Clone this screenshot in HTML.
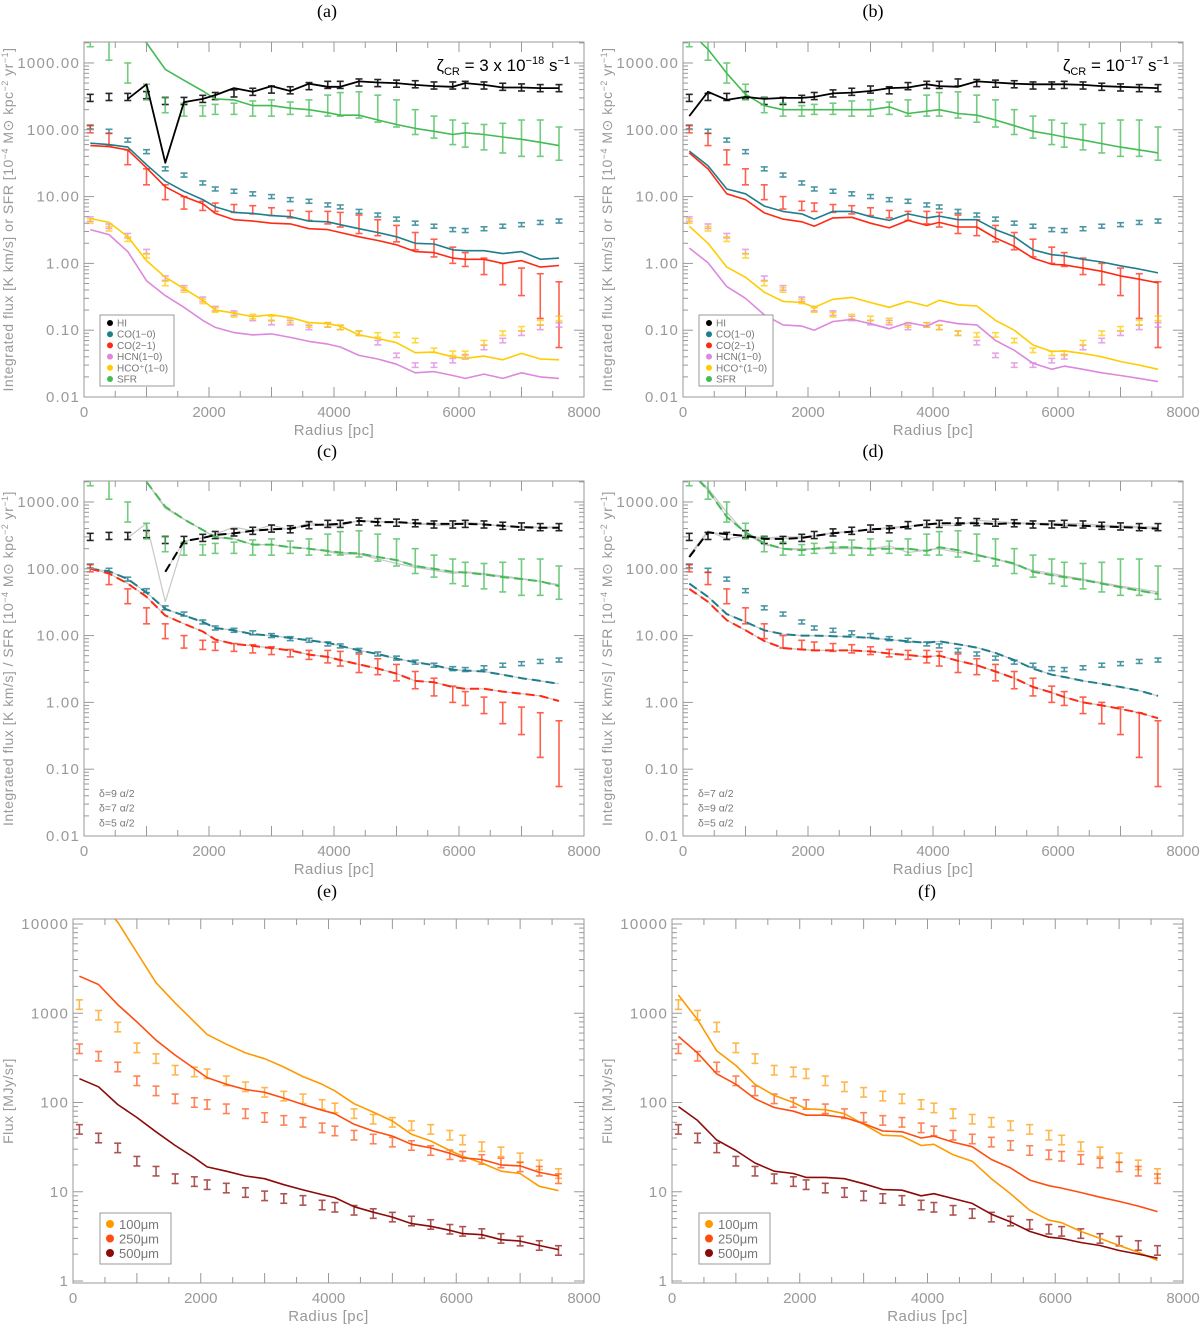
<!DOCTYPE html>
<html><head><meta charset="utf-8">
<style>
html,body{margin:0;padding:0;background:#fff;}
svg{display:block;font-family:"Liberation Sans",sans-serif;}
</style></head>
<body>
<svg id="fig" width="1200" height="1325" viewBox="0 0 1200 1325" xmlns="http://www.w3.org/2000/svg"></svg>
<script>
// ---------- data ----------
const radii = [100,400,700,1000,1300,1600,1900,2100,2400,2700,3000,3300,3600,3900,4100,4400,4700,5000,5300,5600,5900,6100,6400,6700,7000,7300,7600];

const obsHI   = [300,310,310,330,270,270,290,320,350,370,400,390,450,470,470,510,500,490,480,460,460,470,460,440,430,420,420];
const obsCO10 = [110,95,70,47,26,21,16,13,12,11,10,9,8.5,7.5,7,6,5.3,4.6,4.0,3.6,3.2,3.1,3.3,3.6,3.8,4.1,4.3];
const obsCO21Lo = [90,58,30,15,9,6.5,6.2,6,5.8,5.5,5.2,4.8,4.4,3.9,3.5,2.8,2.6,2.1,1.6,1.25,1.0,0.9,0.68,0.48,0.33,0.15,0.055];
const obsCO21Hi = [115,88,50,26,15,10,8.5,8,7.6,7.3,6.8,6.2,6,6,5.8,5.3,4.5,3.7,2.9,2.3,1.75,1.45,1.2,1.0,0.85,0.7,0.53];
const obsHCN  = [4.6,3.6,2.6,1.5,0.6,0.43,0.29,0.21,0.18,0.15,0.13,0.13,0.11,0.12,0.11,0.09,0.065,0.042,0.03,0.03,0.035,0.04,0.055,0.07,0.09,0.11,0.12];
const obsHCO  = [4.3,3.3,2.3,1.3,0.5,0.4,0.27,0.2,0.17,0.16,0.15,0.14,0.12,0.12,0.11,0.09,0.085,0.085,0.07,0.05,0.045,0.045,0.065,0.09,0.105,0.13,0.15];
const obsSFRLo = [1750,1100,500,280,180,160,160,170,170,160,160,170,160,160,160,150,130,110,85,75,60,55,50,45,40,40,35];
const obsSFRHi = [2100,2500,1000,480,300,250,230,240,250,270,280,260,280,330,360,370,330,280,200,160,140,125,120,125,140,140,110];

const aHI   = [null,null,290,480,32,260,290,330,420,370,450,380,490,440,440,530,510,500,470,450,440,500,470,430,430,420,420];
const aSFR  = [10000,6000,3500,2000,800,550,380,290,280,230,230,210,200,180,165,165,140,120,105,95,85,90,85,78,72,65,58];
const aCO10 = [63,60,55,30,17,12,9,7,5.8,5.6,5.2,5,4.3,4.2,3.8,3.3,2.9,2.5,2,1.95,1.6,1.55,1.55,1.4,1.5,1.15,1.2];
const aCO21 = [58,56,50,27,14,10,7.8,5.6,4.5,4.3,4,3.9,3.3,3.2,2.9,2.5,2.2,1.9,1.5,1.45,1.2,1.15,1.15,1.0,1.1,0.88,0.93];
const aHCO  = [4.7,4.1,2.5,1.1,0.62,0.42,0.28,0.2,0.18,0.16,0.17,0.155,0.13,0.125,0.115,0.085,0.075,0.065,0.046,0.047,0.04,0.038,0.041,0.036,0.045,0.037,0.036];
const aHCN  = [3.2,2.7,1.5,0.55,0.33,0.22,0.14,0.11,0.092,0.085,0.088,0.078,0.068,0.062,0.056,0.042,0.037,0.031,0.023,0.024,0.021,0.019,0.022,0.019,0.023,0.02,0.019];

const bHI   = [160,370,280,310,290,300,300,310,350,360,380,420,430,480,450,440,530,510,490,480,480,480,470,450,440,430,420];
const bSFR  = [3000,1600,700,340,230,200,200,200,200,200,200,220,175,190,200,175,165,140,115,95,85,78,70,62,55,50,45];
const bCO10 = [48,29,13,11,7.2,6,5.5,4.6,6,6,5,4.4,5.5,4.8,5.1,4.5,4.5,3.2,2.5,1.6,1.35,1.3,1.15,1.05,0.92,0.82,0.72];
const bCO21 = [45,26,11,9,5.7,4.6,4.2,3.6,4.8,4.9,4,3.4,4.4,3.7,4.1,3.5,3.5,2.4,1.8,1.2,0.97,0.95,0.85,0.76,0.65,0.58,0.51];
const bHCO  = [3.6,2,0.88,0.62,0.37,0.27,0.26,0.22,0.29,0.31,0.26,0.22,0.27,0.23,0.28,0.24,0.23,0.14,0.1,0.06,0.048,0.049,0.045,0.04,0.034,0.03,0.026];
const bHCN  = [1.7,1.02,0.45,0.3,0.17,0.12,0.115,0.1,0.135,0.145,0.125,0.105,0.13,0.115,0.14,0.125,0.12,0.07,0.05,0.032,0.026,0.029,0.026,0.023,0.021,0.019,0.017];

const cHI   = [null,null,null,null,90,260,290,320,340,370,390,400,450,460,470,520,500,500,480,470,470,470,460,440,420,410,410];
const cSFR  = [null,null,null,2000,850,550,380,300,280,230,230,210,200,185,175,170,150,135,110,100,90,88,82,75,70,65,55];
const cCO10 = [100,92,70,44,25,20,16,13,12,10.5,10,9.2,8.5,7.8,7,6,5.3,4.5,4,3.6,3.1,3.0,2.9,2.6,2.3,2.1,1.9];
const cCO21 = [100,85,60,38,20,15,11.5,8.7,7.5,7,6.5,6,5.2,4.8,4.3,3.7,3.2,2.7,2.1,2,1.7,1.6,1.6,1.45,1.35,1.25,1.05];

const dHI   = [150,350,330,310,280,280,290,310,340,360,390,400,430,460,480,480,480,470,480,470,460,450,440,430,420,410,400];
const dSFR  = [3000,1500,600,350,240,200,190,200,210,210,200,200,200,185,210,190,160,140,120,90,80,75,68,60,53,47,42];
const dCO10 = [60,38,21,16,12,10.5,10,10,9.8,9.6,9.2,8.7,8.2,7.8,8.2,7.4,6.6,5.5,4.3,3.2,2.6,2.4,2.1,1.9,1.7,1.5,1.25];
const dCO21 = [50,32,17,12,8.3,6.5,6.2,6,6,6,5.8,5.4,5.1,4.8,5,4.2,3.6,2.9,2.3,1.7,1.4,1.2,1.0,0.9,0.8,0.7,0.58];

const obs100 = [1250,950,700,410,310,230,220,210,175,150,130,118,110,95,87,75,65,60,55,50,43,38,32,28,24,20,16];
const obs250 = [400,330,250,175,135,110,100,95,85,75,68,63,60,52,48,43,39,36,33,29,26,25,23,21,19,17,14];
const obs500 = [50,40,31,22,17,14,13,12,11,9.8,9,8.4,8,7.1,6.7,6.2,5.7,5.2,4.7,4.3,3.8,3.6,3.4,3.0,2.8,2.5,2.2];
const e100 = [30000,18000,10500,4800,2200,1300,800,580,450,360,310,250,195,160,135,97,78,62,44,37,29,25,21,17,16,11.5,10.3];
const e250 = [2600,2100,1250,800,500,340,240,190,160,140,130,112,95,82,75,57,48,42,34,31,27,24,23,20,19.5,16.5,15];
const e500 = [185,150,95,68,47,33,24,19,17,15,14,12,10.5,9.3,8.6,6.8,5.9,5.2,4.4,4.1,3.7,3.4,3.3,2.9,2.8,2.5,2.25];
const f100 = [1600,850,380,260,160,120,100,85,83,75,57,43,42,33,34,26,22,14,9.5,6.2,4.8,4.5,3.6,3,2.5,2.1,1.7];
const f250 = [550,360,210,160,110,88,80,72,72,68,58,48,47,40,42,36,32,23,18.5,13.5,11.7,11,9.8,8.7,7.8,6.9,6];
const f500 = [90,63,38,29,21,17,16,14.5,14.5,14,12.3,10.6,10.4,9,9.5,8.4,7.4,5.6,4.6,3.6,3.1,3,2.7,2.5,2.2,2,1.8];

const xTicks = [0,2000,4000,6000,8000];
const yTicksMol = ["0.01","0.10","1.00","10.00","100.00","1000.00"];
const yTicksDust = ["1","10","100","1000","10000"];

// ---------- drawing ----------
const NS = "http://www.w3.org/2000/svg";
const svg = document.getElementById('fig');
function mk(tag, attrs, parent){
  const e = document.createElementNS(NS, tag);
  for (const k in attrs) e.setAttribute(k, attrs[k]);
  (parent||svg).appendChild(e);
  return e;
}
const COL = {HI:'#000', CO10:'#1f7d8c', CO21:'#ff2a14', HCN:'#dd88dd', HCO:'#ffcc00', SFR:'#44bb55', d100:'#ff9900', d250:'#ff4d10', d500:'#8b0a0a'};

function makePanel(id, L, R, T, B, ymin, ymax){
  const lmin = Math.log10(ymin), lmax = Math.log10(ymax);
  const sx = r => L + r/8000*(R-L);
  const sy = v => B - (Math.log10(v)-lmin)/(lmax-lmin)*(B-T);
  const g = mk('g', {});
  
  
  const cp = mk('clipPath', {id:'clip'+id}, g);
  mk('rect', {x:L, y:T, width:R-L, height:B-T}, cp);
  const plot = mk('g', {'clip-path':'url(#clip'+id+')'}, g);
  return {L,R,T,B,sx,sy,g,plot,ymin,ymax};
}

function axes(p, yLabels, yTitleParts, id){
  const ax = mk('g', {stroke:'#999', 'stroke-width':1, fill:'none'}, p.g);
  
  
  mk('rect', {x:p.L, y:p.T, width:p.R-p.L, height:p.B-p.T}, ax);
  for (let r=0; r<=8000; r+=500){
    const x = p.sx(r), len = (r%1000===0)?10:6;
    mk('line', {x1:x, y1:p.B, x2:x, y2:p.B-len}, ax);
    mk('line', {x1:x, y1:p.T, x2:x, y2:p.T+len}, ax);
  }
  const d0 = Math.floor(Math.log10(p.ymin)), d1 = Math.ceil(Math.log10(p.ymax));
  for (let d=d0; d<=d1; d++){
    for (let m=1; m<10; m++){
      const v = m*Math.pow(10,d);
      if (v < p.ymin*0.999 || v > p.ymax) continue;
      const y = p.sy(v), len = m===1?10:5;
      mk('line', {x1:p.L, y1:y, x2:p.L+len, y2:y}, ax);
      mk('line', {x1:p.R, y1:y, x2:p.R-len, y2:y}, ax);
    }
  }
  yLabels.forEach(s => {
    const v = parseFloat(s);
    const t = mk('text', {x:p.L-4, y:p.sy(v)+5, 'text-anchor':'end', 'font-size':15, 'letter-spacing':1.2, fill:'#999'}, p.g);
    t.textContent = s;
    
    
  });
  xTicks.forEach(r => {
    const t = mk('text', {x:p.sx(r), y:p.B+20, 'text-anchor':'middle', 'font-size':15, fill:'#999'}, p.g);
    t.textContent = r;
    
    
  });
  const xt = mk('text', {x:(p.L+p.R)/2, y:p.B+38, 'text-anchor':'middle', 'font-size':15, 'letter-spacing':0.5, fill:'#999'}, p.g);
  xt.textContent = 'Radius [pc]';
  
  
  const cy = (p.T+p.B)/2;
  const yt = mk('text', {x:0, y:0, 'text-anchor':'middle', 'font-size':14, 'letter-spacing':0.5, fill:'#999', transform:`translate(${p.L===73||p.L===672?p.L-60:p.L-71},${cy}) rotate(-90)`}, p.g);
  
  
  yTitleParts.forEach(pt => {
    const ts = mk('tspan', pt[1]?{'baseline-shift':'super','font-size':9}:{}, yt);
    ts.textContent = pt[0];
  });
}

function line(p, arr, color, dashed, w, name){
  let d = '', pen = false;
  arr.forEach((v,i) => {
    if (v===null){ pen=false; return; }
    d += (pen?'L':'M') + p.sx(radii[i]).toFixed(1) + ',' + p.sy(v).toFixed(1);
    pen = true;
  });
  const e = mk('path', {d, fill:'none', stroke:color, 'stroke-width':w||1.6, 'stroke-dasharray':dashed?'9,5':'none', 'stroke-linejoin':'round'}, p.plot);
  
  
}

function errbars(p, lo, hi, color, name, w, op){
  const g = mk('g', {stroke:color, 'stroke-width':w||1.6, opacity:op||0.75}, p.plot);
  
  
  lo.forEach((l,i) => {
    const x = p.sx(radii[i]), y1 = p.sy(l), y2 = p.sy(hi[i]);
    mk('line', {x1:x, y1:y1, x2:x, y2:y2}, g);
    mk('line', {x1:x-3.5, y1:y1, x2:x+3.5, y2:y1}, g);
    mk('line', {x1:x-3.5, y1:y2, x2:x+3.5, y2:y2}, g);
  });
}
function relbars(p, c, f, color, name, w, op){
  errbars(p, c.map(v=>v/(1+f)), c.map(v=>v*(1+f)), color, name, w, op);
}

function panelLabel(x, y, s){
  const t = mk('text', {x, y, 'text-anchor':'middle', 'font-size':18, fill:'#000', 'font-family':'"Liberation Serif",serif'});
  t.textContent = s;
  
  
}

function molLegend(p){
  const g = mk('g', {}, p.g);
  
  
  mk('rect', {x:p.L+16, y:p.T+273, width:74, height:71, fill:'#fff', stroke:'#999'}, g);
  const items = [['HI',COL.HI],['CO(1−0)',COL.CO10],['CO(2−1)',COL.CO21],['HCN(1−0)',COL.HCN],['HCO⁺(1−0)',COL.HCO],['SFR',COL.SFR]];
  items.forEach((it,i) => {
    const y = p.T+281+i*11.2;
    const c = mk('circle', {cx:p.L+26, cy:y, r:3, fill:it[1]}, g);
    
    
    const t = mk('text', {x:p.L+33, y:y+3.5, 'font-size':10, fill:'#777'}, g);
    t.textContent = it[0];
    
    
  });
}
function dustLegend(p){
  const g = mk('g', {}, p.g);
  
  
  mk('rect', {x:p.L+27, y:p.T+294, width:71, height:51, fill:'#fff', stroke:'#999'}, g);
  [['100μm',COL.d100],['250μm',COL.d250],['500μm',COL.d500]].forEach((it,i) => {
    const y = p.T+305+i*14.5;
    const c = mk('circle', {cx:p.L+37, cy:y, r:4, fill:it[1]}, g);
    
    
    const t = mk('text', {x:p.L+46, y:y+5, 'font-size':13, fill:'#777'}, g);
    t.textContent = it[0];
    
    
  });
}
function notes(p, lines){
  lines.forEach((s,i) => {
    const t = mk('text', {x:p.L+15, y:p.T+316+i*14.7, 'font-size':10.5, fill:'#777'}, p.g);
    t.textContent = s;
    
    
  });
}
function zeta(p, parts){
  const t = mk('text', {x:p.R-14, y:p.T+29, 'text-anchor':'end', 'font-size':17, fill:'#000'}, p.g);
  
  
  parts.forEach(pt => {
    const ts = mk('tspan', pt[1]==='sup'?{dy:-7,'font-size':11}:pt[1]==='sub'?{dy:4,'font-size':11}:pt[1]==='back'?{dy:pt[2]}:{}, t);
    ts.textContent = pt[0];
  });
}

const molTitleOr = [['Integrated flux [K km/s] or SFR [10',0],['−4',1],[' M⊙ kpc',0],['−2',1],[' yr',0],['−1',1],[']',0]];
const molTitleSl = [['Integrated flux [K km/s] / SFR [10',0],['−4',1],[' M⊙ kpc',0],['−2',1],[' yr',0],['−1',1],[']',0]];
const dustTitle = [['Flux [MJy/sr]',0]];

function obsAll(p, withLines){
  relbars(p, obsHI.map(v=>v), 0.13, COL.HI, 'hi-observed', 1.6, 0.85);
  errbars(p, obsSFRLo, obsSFRHi, COL.SFR, 'sfr-observed', 1.6, 0.75);
  relbars(p, obsCO10, 0.07, COL.CO10, 'co10-observed', 1.6, 0.8);
  errbars(p, obsCO21Lo, obsCO21Hi, COL.CO21, 'co21-observed', 1.6, 0.75);
  if (withLines){
    relbars(p, obsHCN, 0.08, COL.HCN, 'hcn-observed', 1.6, 0.75);
    relbars(p, obsHCO, 0.08, COL.HCO, 'hco-observed', 1.6, 0.75);
  }
}

panelLabel(327, 17, '(a)');
const pa = makePanel('a', 84, 584, 42, 397, 0.01, 2060);
obsAll(pa, true);
line(pa, aSFR, COL.SFR, false, 1.6, 'sfr-model');
line(pa, aHI, COL.HI, false, 1.8, 'hi-model');
line(pa, aCO10, COL.CO10, false, 1.6, 'co10-model');
line(pa, aCO21, COL.CO21, false, 1.6, 'co21-model');
line(pa, aHCO, COL.HCO, false, 1.6, 'hco-model');
line(pa, aHCN, COL.HCN, false, 1.6, 'hcn-model');
axes(pa, yTicksMol, molTitleOr, 'a');
molLegend(pa);
zeta(pa, [['ζ',''],['CR','sub'],[' = 3 x 10','back',-4],['−18','sup'],[' s','back',7],['−1','sup']]);

panelLabel(873, 17, '(b)');
const pb = makePanel('b', 683, 1183, 42, 397, 0.01, 2060);
obsAll(pb, true);
line(pb, bSFR, COL.SFR, false, 1.6, 'sfr-model');
line(pb, bHI, COL.HI, false, 1.8, 'hi-model');
line(pb, bCO10, COL.CO10, false, 1.6, 'co10-model');
line(pb, bCO21, COL.CO21, false, 1.6, 'co21-model');
line(pb, bHCO, COL.HCO, false, 1.6, 'hco-model');
line(pb, bHCN, COL.HCN, false, 1.6, 'hcn-model');
axes(pb, yTicksMol, molTitleOr, 'b');
molLegend(pb);
zeta(pb, [['ζ',''],['CR','sub'],[' = 10','back',-4],['−17','sup'],[' s','back',7],['−1','sup']]);

panelLabel(327, 457, '(c)');
const pc = makePanel('c', 84, 584, 481, 836, 0.01, 2060);
[aHI, aSFR, cCO10, cCO21, cHI, cSFR].forEach(a => line(pc, a, '#c8c8c8', false, 1.2, 'alt-model'));
obsAll(pc, false);
line(pc, cSFR, COL.SFR, true, 2, 'sfr-model');
line(pc, cHI, COL.HI, true, 2, 'hi-model');
line(pc, cCO10, COL.CO10, true, 2, 'co10-model');
line(pc, cCO21, COL.CO21, true, 2, 'co21-model');
axes(pc, yTicksMol, molTitleSl, 'c');
notes(pc, ['δ=9 α/2','δ=7 α/2','δ=5 α/2']);

panelLabel(873, 457, '(d)');
const pd = makePanel('d', 683, 1183, 481, 836, 0.01, 2060);
[bHI, bSFR, dCO10, dCO21, dHI, dSFR].forEach(a => line(pd, a, '#c8c8c8', false, 1.2, 'alt-model'));
obsAll(pd, false);
line(pd, dSFR, COL.SFR, true, 2, 'sfr-model');
line(pd, dHI, COL.HI, true, 2, 'hi-model');
line(pd, dCO10, COL.CO10, true, 2, 'co10-model');
line(pd, dCO21, COL.CO21, true, 2, 'co21-model');
axes(pd, yTicksMol, molTitleSl, 'd');
notes(pd, ['δ=7 α/2','δ=9 α/2','δ=5 α/2']);

panelLabel(327, 897, '(e)');
const pe = makePanel('e', 73, 584, 919, 1283, 0.95, 11380);
relbars(pe, obs100, 0.13, COL.d100, 'obs-100um', 1.6, 0.7);
relbars(pe, obs250, 0.13, COL.d250, 'obs-250um', 1.6, 0.7);
relbars(pe, obs500, 0.13, COL.d500, 'obs-500um', 1.6, 0.7);
line(pe, e100, COL.d100, false, 1.6, 'model-100um');
line(pe, e250, COL.d250, false, 1.6, 'model-250um');
line(pe, e500, COL.d500, false, 1.6, 'model-500um');
axes(pe, yTicksDust, dustTitle, 'e');
dustLegend(pe);

panelLabel(927, 897, '(f)');
const pf = makePanel('f', 672, 1183, 919, 1283, 0.95, 11380);
relbars(pf, obs100, 0.13, COL.d100, 'obs-100um', 1.6, 0.7);
relbars(pf, obs250, 0.13, COL.d250, 'obs-250um', 1.6, 0.7);
relbars(pf, obs500, 0.13, COL.d500, 'obs-500um', 1.6, 0.7);
line(pf, f100, COL.d100, false, 1.6, 'model-100um');
line(pf, f250, COL.d250, false, 1.6, 'model-250um');
line(pf, f500, COL.d500, false, 1.6, 'model-500um');
axes(pf, yTicksDust, dustTitle, 'f');
dustLegend(pf);
</script>
</body></html>
